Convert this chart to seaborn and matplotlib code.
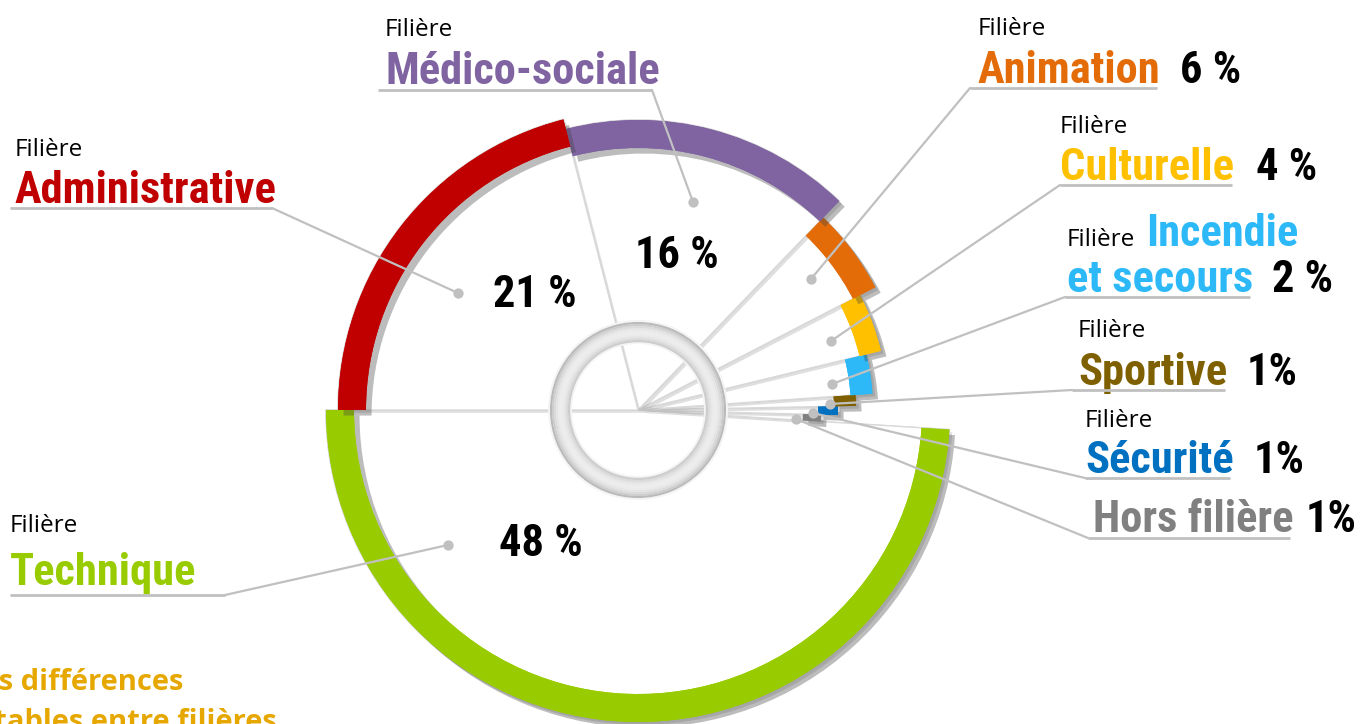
import numpy as np
import matplotlib.pyplot as plt
import matplotlib.patheffects as pe
from matplotlib.patches import Wedge
from matplotlib import font_manager
import seaborn as sns
import warnings
warnings.filterwarnings('ignore')

# Données (ordre de tracé : sens trigonométrique depuis la gauche)
filieres = ['Technique', 'Hors filière', 'Sécurité', 'Sportive', 'Incendie et secours',
            'Culturelle', 'Animation', 'Médico-sociale', 'Administrative']
parts = [49.0, 0.6, 0.7, 0.8, 2.7, 3.8, 5.2, 16.2, 21.0]
etiquettes = ['48 %', '1%', '1%', '1%', '2 %', '4 %', '6 %', '16 %', '21 %']
couleurs = ['#99CC00', '#808080', '#0070C0', '#7F6000', '#2DB9F7',
            '#FFC000', '#E36C09', '#8064A2', '#C00000']

# Style : rayon extérieur et épaisseur du bandeau coloré (pixels)
rayons = [312, 183, 200, 218, 235, 250, 267, 290, 300]
bandeaux = [28, 18, 20, 22, 22, 22, 25, 28, 28]

W, H = 1365, 724
CX, CY = 638, 410


def Y(p):
    return H - p


sns.set_style('white')
REG = ['Open Sans', 'DejaVu Sans']

# police étroite installée (sinon police normale plus petite)
noms = {f.name for f in font_manager.fontManager.ttflist}
etroites = [n for n in ['Roboto Condensed', 'Liberation Sans Narrow', 'DejaVu Sans Condensed',
                        'Open Sans Condensed', 'Noto Sans Condensed'] if n in noms]
COND = etroites[:1] + ['DejaVu Sans']
TAILLE = 32 if etroites else 24

fig = plt.figure(figsize=(W / 100, H / 100), dpi=100)
ax = fig.add_axes([0, 0, 1, 1])
ax.set_xlim(0, W)
ax.set_ylim(0, H)
ax.set_aspect('equal')
ax.axis('off')

angles = 180 + np.concatenate([[0], np.cumsum(parts)]) * 3.6
ombre_blanche = [pe.withSimplePatchShadow(offset=(2, -2), shadow_rgbFace='#808080', alpha=0.25), pe.Normal()]
ombre = [pe.withSimplePatchShadow(offset=(4, -4), shadow_rgbFace='#404040', alpha=0.35), pe.Normal()]

# secteurs blancs
for i in range(len(filieres)):
    ax.add_patch(Wedge((CX, Y(CY)), rayons[i], angles[i], angles[i + 1],
                       facecolor='white', edgecolor='#d9d9d9', lw=1.0,
                       path_effects=ombre_blanche, zorder=2))
# bandeaux colorés
for i in range(len(filieres)):
    ax.add_patch(Wedge((CX, Y(CY)), rayons[i], angles[i], angles[i + 1], width=bandeaux[i],
                       facecolor=couleurs[i], edgecolor='none',
                       path_effects=ombre, zorder=3))

# anneau central gris
ax.add_patch(Wedge((CX, Y(CY)), 90, 0, 360, width=24, facecolor='#f4f4f4', edgecolor='none', zorder=4))
for r in np.arange(88, 68, -2):
    t = abs((r - 78) / 10)
    g = 0.93 - 0.2 * t ** 2
    ax.add_patch(Wedge((CX, Y(CY)), r, 0, 360, width=2.2, facecolor=(g, g, g),
                       edgecolor='none', zorder=5))

# étiquettes : x texte, ligne de base "Filière", ligne de base du nom, soulignement, point, x du %
disp = {
    'Technique':       dict(x=10, fil=532, base=585, ul=(10, 225, 595), dot=(448, 545), pct=None),
    'Administrative':  dict(x=15, fil=156, base=203, ul=(10, 272, 208), dot=(458, 293), pct=None),
    'Médico-sociale':  dict(x=385, fil=36, base=84, ul=(378, 652, 90), dot=(693, 202), pct=None),
    'Animation':       dict(x=978, fil=35, base=83, ul=(970, 1157, 88), dot=(811, 279), pct=1180),
    'Culturelle':      dict(x=1060, fil=133, base=180, ul=(1060, 1232, 185), dot=(831, 341), pct=1256),
    'Incendie et secours': dict(x=1067, fil=246, base=292, ul=(1065, 1250, 297), dot=(832, 384), pct=1272),
    'Sportive':        dict(x=1078, fil=337, base=385, ul=(1072, 1225, 390), dot=(830, 404), pct=1247),
    'Sécurité':        dict(x=1085, fil=427, base=473, ul=(1085, 1230, 478), dot=(813, 413), pct=1254),
    'Hors filière':    dict(x=1093, fil=None, base=532, ul=(1088, 1290, 538), dot=(796, 419), pct=1306),
}
interieur = {'Technique': (541, 544), 'Administrative': (535, 295), 'Médico-sociale': (677, 256)}

ligne = '#c0c0c0'
gras = dict(family=COND, weight='bold', fontsize=TAILLE, fontstretch='condensed', va='baseline')
for i, nom in enumerate(filieres):
    d = disp[nom]
    x0, x1, yu = d['ul']
    ax.plot([x0, x1], [Y(yu), Y(yu)], color=ligne, lw=2, zorder=6, solid_capstyle='butt')
    bout = x1 if d['pct'] is None else x0
    ax.plot([bout, d['dot'][0]], [Y(yu), Y(d['dot'][1])], color=ligne, lw=1.6, zorder=6)
    ax.scatter([d['dot'][0]], [Y(d['dot'][1])], s=55, color=ligne, zorder=7, linewidths=0)

    if nom == 'Incendie et secours':
        ax.text(d['x'], Y(d['fil']), 'Filière', family=REG, fontsize=17.5, color='black', va='baseline')
        ax.text(1146, Y(d['fil']), 'Incendie', color=couleurs[i], **gras)
        ax.text(d['x'], Y(d['base']), 'et secours', color=couleurs[i], **gras)
    else:
        if d['fil'] is not None:
            ax.text(d['x'], Y(d['fil']), 'Filière', family=REG, fontsize=17.5, color='black', va='baseline')
        ax.text(d['x'], Y(d['base']), nom, color=couleurs[i], **gras)
    if d['pct'] is not None:
        ax.text(d['pct'], Y(d['base']), etiquettes[i], color='black', **gras)
    if nom in interieur:
        px, py = interieur[nom]
        ax.text(px, Y(py), etiquettes[i], family=COND, weight='bold', fontsize=TAILLE,
                fontstretch='condensed', color='black', ha='center', va='center', zorder=8)

# texte tronqué en bas à gauche (coupé comme dans l'original)
ax.text(183, Y(683), 'Des différences', family=REG, weight='bold', fontsize=21,
        color='#E6A800', ha='right', va='center')
ax.text(277, Y(722), 'notables entre filières', family=REG, weight='bold', fontsize=21,
        color='#E6A800', ha='right', va='center')

plt.savefig('out.png', dpi=100)
